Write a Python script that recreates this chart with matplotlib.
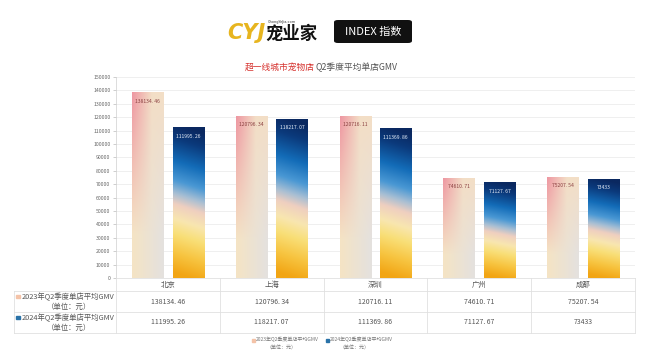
import numpy as np
import matplotlib.pyplot as plt
from matplotlib.colors import LinearSegmentedColormap, to_rgb
from matplotlib.patches import Rectangle, FancyBboxPatch
from matplotlib.lines import Line2D
from matplotlib import transforms

plt.rcParams['font.family'] = ['Noto Sans CJK SC', 'DejaVu Sans']

# ==================== DATA ====================
cities = ['北京', '上海', '深圳', '广州', '成都']
gmv_2023 = [138134.46, 120796.34, 120716.11, 74610.71, 75207.54]
gmv_2024 = [111995.26, 118217.07, 111369.86, 71127.67, 73433]
series_names = ['2023年Q2季度单店平均GMV', '2024年Q2季度单店平均GMV']
unit_label = '（单位：元）'
y_ticks = list(range(0, 150001, 10000))
title_red = '超一线城市宠物店'
title_rest = 'Q2季度平均单店GMV'

W, H = 650, 362


def fx(px):
    return px / W


def fy(py):
    return 1 - py / H


def fmt(v):
    if float(v).is_integer():
        return str(int(v))
    return f'{v:.2f}'.replace('.', '. ')


def grad_2023(n=80):
    tl = np.array(to_rgb('#ee97a2'))
    tr = np.array(to_rgb('#f3dec6'))
    bl = np.array(to_rgb('#f5e4c4'))
    br = np.array(to_rgb('#e4e1df'))
    yy, xx = np.mgrid[0:1:n * 1j, 0:1:n * 1j]
    # pink fades quickly toward the right / bottom
    xs = np.clip(xx * 1.6, 0, 1)[..., None]
    ys = np.clip(yy * 1.3, 0, 1)[..., None]
    top = tl * (1 - xs) + tr * xs
    bot = bl * (1 - xx[..., None]) + br * xx[..., None]
    return top * (1 - ys) + bot * ys


cmap_2024 = LinearSegmentedColormap.from_list('g24', [
    (0.0, '#0a2860'), (0.10, '#0b3a7c'), (0.25, '#136cb8'),
    (0.38, '#4a98d4'), (0.47, '#a9bfd3'), (0.54, '#efcfc0'),
    (0.64, '#f8e6b0'), (0.74, '#f9df78'), (0.87, '#f7c440'),
    (1.0, '#f2a514')])


def grad_2024(n=100):
    yy, xx = np.mgrid[0:1:n * 1j, 0:1:n * 1j]
    # colour bands slope a little: the left side changes earlier
    t = np.clip(yy + 0.07 * (0.5 - xx), 0, 1)
    return cmap_2024(t)[..., :3]


# ==================== FIGURE ====================
fig = plt.figure(figsize=(6.5, 3.62), dpi=100)
fig.patch.set_facecolor('white')

ax_l, ax_r, ax_t, ax_b = 116, 635, 77, 278
ax = fig.add_axes([fx(ax_l), fy(ax_b), fx(ax_r - ax_l), (ax_b - ax_t) / H])

bar_w = 0.3
off = 0.195
img23 = grad_2023()
img24 = grad_2024()
x = np.arange(len(cities))
for i in x:
    for v, dx, img, col in [(gmv_2023[i], -off, img23, '#8a4040'),
                            (gmv_2024[i], off, img24, '#e8eef8')]:
        x0 = i + dx - bar_w / 2
        ax.imshow(img, extent=[x0, x0 + bar_w, 0, v], aspect='auto',
                  origin='upper', interpolation='bilinear', zorder=2)
        ax.annotate(fmt(v), (i + dx, v), xytext=(0, -6),
                    textcoords='offset points', ha='center', va='center',
                    fontsize=3.6, color=col, zorder=3)

ax.set_xlim(-0.5, len(cities) - 0.5)
ax.set_ylim(0, 150000)
ax.set_yticks(y_ticks)
ax.set_yticklabels([str(t) for t in y_ticks])
ax.tick_params(axis='y', labelsize=3.7, colors='#bbbbbb', labelcolor='#666666',
               length=2.5, width=0.5, pad=1.5)
ax.set_xticks([])
ax.grid(axis='y', color='#ececec', linewidth=0.6, zorder=0)
ax.set_axisbelow(True)
for s in ['top', 'right', 'bottom']:
    ax.spines[s].set_visible(False)
ax.spines['left'].set_color('#cfcfcf')
ax.spines['left'].set_linewidth(0.5)

# ==================== TABLE ====================
lc = '#e0e0e0'
bt = transforms.blended_transform_factory(ax.transData, fig.transFigure)
row_lines = [278, 291, 312, 333]
for k, py in enumerate(row_lines):
    x_start = ax_l if k == 0 else 14
    fig.add_artist(Line2D([fx(x_start), fx(ax_r)], [fy(py), fy(py)],
                          color=lc, linewidth=0.6))
for i in range(len(cities) + 1):
    ax.add_artist(Line2D([i - 0.5, i - 0.5], [fy(278), fy(333)], transform=bt,
                         color=lc, linewidth=0.6, clip_on=False))
fig.add_artist(Line2D([fx(14), fx(14)], [fy(291), fy(333)], color=lc, linewidth=0.6))

for i, c in enumerate(cities):
    ax.text(i, fy(284.5), c, transform=bt, ha='center', va='center',
            fontsize=5.3, color='#555555')
    ax.text(i, fy(301.5), fmt(gmv_2023[i]), transform=bt, ha='center',
            va='center', fontsize=5, color='#555555')
    ax.text(i, fy(322.5), fmt(gmv_2024[i]), transform=bt, ha='center',
            va='center', fontsize=5, color='#555555')

marker_cols = ['#f4c3a8', '#2a72a8']
for k, (name, yc) in enumerate(zip(series_names, [301.5, 322.5])):
    fig.add_artist(Rectangle((fx(16), fy(yc - 3.3)), fx(3.5), 3.5 / H,
                             color=marker_cols[k]))
    fig.text(fx(68), fy(yc - 4.5), name, ha='center', va='center',
             fontsize=5.3, color='#555555')
    fig.text(fx(69), fy(yc + 5), unit_label, ha='center', va='center',
             fontsize=5.3, color='#555555')

# bottom legend
for k, (name, px, ux) in enumerate(zip(series_names, [252, 326], [281, 355])):
    fig.add_artist(Rectangle((fx(px), fy(341.5)), fx(3), 3 / H,
                             color=marker_cols[k]))
    fig.text(fx(px + 4), fy(340), name, ha='left', va='center',
             fontsize=3.6, color='#777777')
    fig.text(fx(ux), fy(348), unit_label, ha='center', va='center',
             fontsize=3.6, color='#777777')

# ==================== HEADER ====================
t1 = fig.text(fx(245), fy(67), title_red, ha='left', va='center',
              fontsize=6.3, color='#d6322e')
fig.canvas.draw()
bb = t1.get_window_extent()
fig.text(bb.x1 / fig.bbox.width, fy(67), title_rest, ha='left', va='center',
         fontsize=6.3, color='#555555')

fig.text(fx(246), fy(33), 'CYJ', ha='center', va='center', fontsize=15,
         fontweight='heavy', fontstyle='italic', color='#e7b51f',
         family='DejaVu Sans')
fig.text(fx(268), fy(22), 'ChongYeJia.com', ha='left', va='center',
         fontsize=2.5, color='#333333', family='DejaVu Sans')
fig.text(fx(291), fy(34), '宠业家', ha='center', va='center', fontsize=12.5,
         fontweight='bold', color='#111111')

box = FancyBboxPatch((fx(334), fy(43)), fx(78), 23 / H,
                     boxstyle='round,pad=0,rounding_size=0.006',
                     transform=fig.transFigure, facecolor='#111111',
                     edgecolor='none')
fig.add_artist(box)
fig.text(fx(373), fy(31.5), 'INDEX 指数', ha='center', va='center',
         fontsize=8, color='white')

plt.savefig('out.png', dpi=100)
